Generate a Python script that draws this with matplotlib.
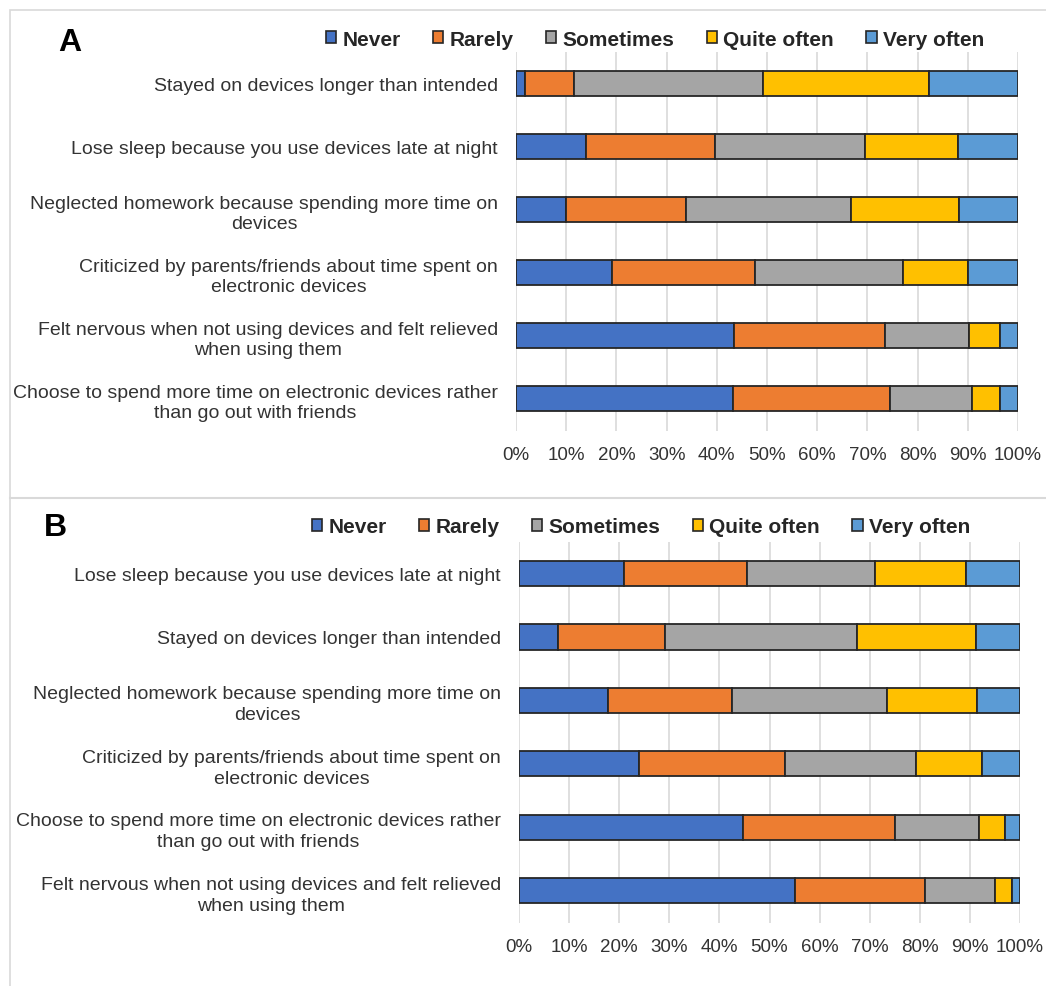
import matplotlib
matplotlib.use("Agg")
import matplotlib.pyplot as plt
from matplotlib.patches import Patch, Rectangle
from matplotlib.lines import Line2D
import numpy as np

plt.rcParams['font.family'] = ['Liberation Sans', 'DejaVu Sans']

levels = ["Never", "Rarely", "Sometimes", "Quite often", "Very often"]
colors = ["#4472C4", "#ED7D31", "#A5A5A5", "#FFC000", "#5B9BD5"]

# panel A (top to bottom)
A_items = ["Stayed on devices longer than intended",
           "Lose sleep because you use devices late at night",
           "Neglected homework because spending more time on\ndevices",
           "Criticized by parents/friends about time spent on\nelectronic devices",
           "Felt nervous when not using devices and felt relieved\nwhen using them",
           "Choose to spend more time on electronic devices rather\nthan go out with friends"]
A_never = [1.7, 13.9, 10.0, 19.1, 43.5, 43.2]
A_rarely = [9.9, 25.7, 23.8, 28.6, 30.1, 31.4]
A_sometimes = [37.7, 29.9, 33.0, 29.3, 16.6, 16.3]
A_quite = [32.9, 18.5, 21.5, 13.0, 6.2, 5.5]
A_very = [17.8, 12.0, 11.7, 10.0, 3.6, 3.6]

# panel B (top to bottom)
B_items = ["Lose sleep because you use devices late at night",
           "Stayed on devices longer than intended",
           "Neglected homework because spending more time on\ndevices",
           "Criticized by parents/friends about time spent on\nelectronic devices",
           "Choose to spend more time on electronic devices rather\nthan go out with friends",
           "Felt nervous when not using devices and felt relieved\nwhen using them"]
B_never = [20.9, 7.8, 17.7, 24.0, 44.8, 55.0]
B_rarely = [24.6, 21.4, 24.9, 29.1, 30.3, 26.0]
B_sometimes = [25.6, 38.3, 30.8, 26.2, 16.7, 14.1]
B_quite = [18.1, 23.7, 18.0, 13.1, 5.2, 3.3]
B_very = [10.8, 8.8, 8.6, 7.6, 3.0, 1.6]

W, H = 1046, 987
fig = plt.figure(figsize=(W / 100, H / 100), dpi=100)


def fx(px):
    return px / W


def fy(py):
    return 1 - py / H


# light frame around the two panels
fig.patches.append(Rectangle((fx(10), fy(1000)), fx(1100), fy(11) - fy(1000), transform=fig.transFigure,
                             fill=False, edgecolor="#D9D9D9", lw=1.2))
fig.lines.append(Line2D([fx(10), 1], [fy(499), fy(499)], transform=fig.transFigure, color="#D9D9D9", lw=1.5))


def draw_panel(rect, items, series, letter, letter_xy, legend_xy):
    ax = fig.add_axes(rect)
    y = np.arange(len(items))
    left = np.zeros(len(items))
    for vals, col, name in zip(series, colors, levels):
        vals = np.array(vals)
        ax.barh(y, vals, left=left, height=0.4, color=col, edgecolor="#262626", linewidth=1.3,
                label=name, zorder=3)
        left += vals
    ax.set_xlim(0, 100)
    ax.set_ylim(5.51, -0.5)
    ax.set_xticks(np.arange(0, 101, 10))
    ax.set_xticklabels([f"{v}%" for v in range(0, 101, 10)])
    ax.set_yticks(y)
    ax.set_yticklabels(items)
    for lab in ax.get_yticklabels():
        lab.set_multialignment("center")
        lab.set_linespacing(1.3)
    ax.tick_params(axis="both", length=0, labelsize=13.5, colors="#333333")
    ax.tick_params(axis="y", labelsize=14, pad=13)
    ax.tick_params(axis="x", pad=11)
    ax.grid(axis="x", color="#D9D9D9", lw=1.2, zorder=0)
    for s in ax.spines.values():
        s.set_visible(False)

    handles = [Patch(facecolor=c, edgecolor="#262626", lw=1.2) for c in colors]
    fig.legend(handles, levels, loc="center", bbox_to_anchor=legend_xy, ncol=5, frameon=False,
               prop={"weight": "bold", "size": 15}, handlelength=0.5, handleheight=0.55,
               handletextpad=0.3, columnspacing=1.55, labelcolor="#262626")
    fig.text(letter_xy[0], letter_xy[1], letter, fontsize=23, fontweight="bold", ha="center", va="center")
    return ax


draw_panel([fx(516), fy(431.7), fx(1018) - fx(516), fy(53) - fy(431.7)], A_items,
           [A_never, A_rarely, A_sometimes, A_quite, A_very], "A", (fx(70), fy(43)), (fx(655), fy(40)))
draw_panel([fx(519), fy(924), fx(1020) - fx(519), fy(542.8) - fy(924)], B_items,
           [B_never, B_rarely, B_sometimes, B_quite, B_very], "B", (fx(55), fy(528)), (fx(641), fy(528)))

fig.savefig("out.png", dpi=100, facecolor="white")
